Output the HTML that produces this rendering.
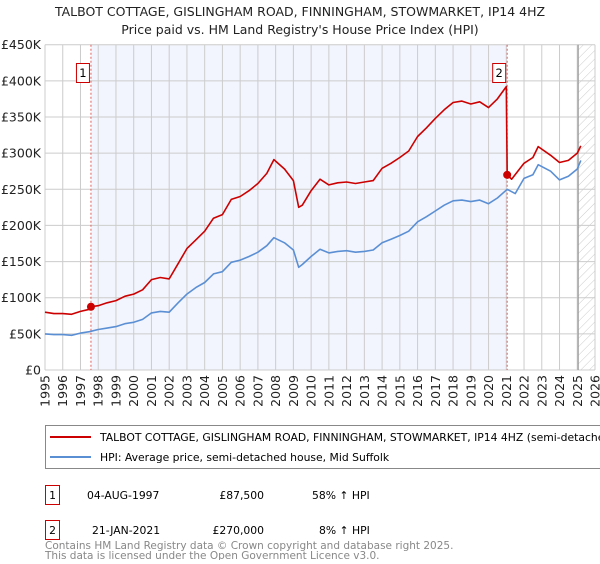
<!DOCTYPE html>
<html><head><meta charset="utf-8"><style>
body{margin:0;background:#fff;width:600px;height:560px;overflow:hidden;font-family:"DejaVu Sans","Liberation Sans",sans-serif;}
svg text{font-family:"DejaVu Sans","Liberation Sans",sans-serif;}
</style></head><body>
<svg id="c" width="600" height="560" xmlns="http://www.w3.org/2000/svg">
<defs><pattern id="hatch" width="6" height="6" patternUnits="userSpaceOnUse" patternTransform="rotate(45)"><line x1="0" y1="0" x2="0" y2="6" stroke="#ccc" stroke-width="1"/></pattern></defs>
<text x="300" y="16" text-anchor="middle" font-size="12.5" fill="#222">TALBOT COTTAGE, GISLINGHAM ROAD, FINNINGHAM, STOWMARKET, IP14 4HZ</text>
<text x="300" y="34" text-anchor="middle" font-size="12.5" fill="#222">Price paid vs. HM Land Registry's House Price Index (HPI)</text>
<g id="plot"></g>
<g>
<rect x="45.5" y="425.5" width="560" height="43" fill="#fff" stroke="#888"/>
<line x1="50" y1="437" x2="91" y2="437" stroke="#cc0000" stroke-width="2"/>
<text x="100" y="441" font-size="10.8" fill="#000">TALBOT COTTAGE, GISLINGHAM ROAD, FINNINGHAM, STOWMARKET, IP14 4HZ (semi-detached</text>
<line x1="50" y1="457" x2="91" y2="457" stroke="#5b8fd4" stroke-width="2"/>
<text x="100" y="461" font-size="10.8" fill="#000">HPI: Average price, semi-detached house, Mid Suffolk</text>
</g>
<g font-size="10.8" fill="#000">
<rect x="45.5" y="485.5" width="14" height="19" fill="#fff" stroke="#cc0000"/>
<text x="52.5" y="499" text-anchor="middle">1</text>
<text x="87" y="499">04-AUG-1997</text>
<text x="264" y="499" text-anchor="end">£87,500</text>
<text x="312" y="499">58% ↑ HPI</text>
<rect x="45.5" y="520.5" width="14" height="19" fill="#fff" stroke="#cc0000"/>
<text x="52.5" y="534" text-anchor="middle">2</text>
<text x="92" y="534">21-JAN-2021</text>
<text x="264" y="534" text-anchor="end">£270,000</text>
<text x="319" y="534">8% ↑ HPI</text>
</g>
<text x="45" y="549" font-size="10.5" fill="#888">Contains HM Land Registry data © Crown copyright and database right 2025.</text>
<text x="45" y="559" font-size="10.5" fill="#888">This data is licensed under the Open Government Licence v3.0.</text>
</svg>
<script>
const yTicks=[0,50,100,150,200,250,300,350,400,450];
const yTickLabels=["£0","£50K","£100K","£150K","£200K","£250K","£300K","£350K","£400K","£450K"];
const xYears=[1995,1996,1997,1998,1999,2000,2001,2002,2003,2004,2005,2006,2007,2008,2009,2010,2011,2012,2013,2014,2015,2016,2017,2018,2019,2020,2021,2022,2023,2024,2025,2026];
const hpiYears=[1995,1995.5,1996,1996.5,1997,1997.5,1998,1998.5,1999,1999.5,2000,2000.5,2001,2001.5,2002,2002.5,2003,2003.5,2004,2004.5,2005,2005.5,2006,2006.5,2007,2007.5,2007.9,2008.5,2009,2009.3,2009.5,2010,2010.5,2011,2011.5,2012,2012.5,2013,2013.5,2014,2014.5,2015,2015.5,2016,2016.5,2017,2017.5,2018,2018.5,2019,2019.5,2020,2020.5,2021.05,2021.5,2022,2022.5,2022.8,2023.5,2024,2024.5,2025,2025.2];
const hpiValues=[50,49,49,48,51,53,56,58,60,64,66,70,79,81,80,93,105,114,121,133,136,149,152,157,163,172,183,176,166,142,146,157,167,162,164,165,163,164,166,176,181,186,192,205,212,220,228,234,235,233,235,230,238,250,244,265,270,284,275,263,268,278,290];
const priceYears=[1995,1995.5,1996,1996.5,1997,1997.5,1997.59,1998,1998.5,1999,1999.5,2000,2000.5,2001,2001.5,2002,2002.5,2003,2003.5,2004,2004.5,2005,2005.5,2006,2006.5,2007,2007.5,2007.9,2008.5,2009,2009.3,2009.5,2010,2010.5,2011,2011.5,2012,2012.5,2013,2013.5,2014,2014.5,2015,2015.5,2016,2016.5,2017,2017.5,2018,2018.5,2019,2019.5,2020,2020.5,2021.0,2021.05,2021.3,2022,2022.5,2022.8,2023.5,2024,2024.5,2025,2025.2];
const priceValues=[80,78,78,77,81,84,87.5,89,93,96,102,105,111,125,128,126,147,168,180,192,210,215,236,240,248,258,272,291,278,262,225,228,248,264,256,259,260,258,260,262,279,286,294,303,323,335,348,360,370,372,368,371,363,375,392,270,264,286,294,309,297,287,290,300,310];
const saleYears=[1997.59,2021.05];
const saleValues=[87.5,270];
const saleLabels=["1","2"];

const X0=45,X1=595,Y0=370,YT=44.7,yr0=1995,yr1=2026,vmax=450;
const sx=y=>X0+(y-yr0)*(X1-X0)/(yr1-yr0);
const sy=v=>Y0-v*(Y0-YT)/vmax;
const NS="http://www.w3.org/2000/svg";
const g=document.getElementById('plot');
function mk(t,a){const e=document.createElementNS(NS,t);for(const k in a)e.setAttribute(k,a[k]);g.appendChild(e);return e;}
let sh=mk('rect',{x:sx(saleYears[0]),y:YT,width:sx(saleYears[1])-sx(saleYears[0]),height:Y0-YT,fill:'#f2f5fd'});


let ht=mk('rect',{x:sx(2025.05),y:YT,width:X1-sx(2025.05),height:Y0-YT,fill:'url(#hatch)'});


xYears.forEach((yr,i)=>{
  const x=sx(yr);
  const l=mk('line',{x1:x,y1:YT,x2:x,y2:Y0,stroke:'#ccc','stroke-width':1});
  
  
  const t=mk('text',{x:0,y:0,'font-size':12.5,fill:'#222','text-anchor':'end',transform:`translate(${x+4.5},${Y0+5}) rotate(-90)`});
  t.textContent=yr;
  
  
});
yTicks.forEach((v,i)=>{
  const y=sy(v);
  const l=mk('line',{x1:X0,y1:y,x2:X1,y2:y,stroke:'#ccc','stroke-width':1});
  
  
  const t=mk('text',{x:X0-4,y:y+4.5,'font-size':12.5,fill:'#222','text-anchor':'end'});
  t.textContent=yTickLabels[i];
  
  
});
let cut=mk('line',{x1:sx(2025.05),y1:YT,x2:sx(2025.05),y2:Y0,stroke:'#999','stroke-width':1.2});


saleYears.forEach((yr,i)=>{
  const l=mk('line',{x1:sx(yr),y1:YT,x2:sx(yr),y2:Y0,stroke:'#e06060','stroke-width':1,'stroke-dasharray':'2,2'});
  
  
});
function path(xs,vs,col,name){
  const d=xs.map((x,i)=>(i?'L':'M')+sx(x).toFixed(1)+','+sy(vs[i]).toFixed(1)).join('');
  const p=mk('path',{d:d,fill:'none',stroke:col,'stroke-width':1.6,'stroke-linejoin':'round'});
  
  
}
path(hpiYears,hpiValues,'#5b8fd4','hpi-line');
path(priceYears,priceValues,'#cc0000','price-line');
saleYears.forEach((yr,i)=>{
  const c=mk('circle',{cx:sx(yr),cy:sy(saleValues[i]),r:4,fill:'#cc0000'});
  
  
  const bx=sx(yr)-15;
  const r=mk('rect',{x:bx+0.5,y:63.5,width:13,height:19,fill:'#fff',stroke:'#cc0000'});
  
  
  const t=mk('text',{x:bx+7,y:77,'font-size':11.5,'text-anchor':'middle',fill:'#000'});
  t.textContent=saleLabels[i];
  
  
});
</script>
</body></html>
